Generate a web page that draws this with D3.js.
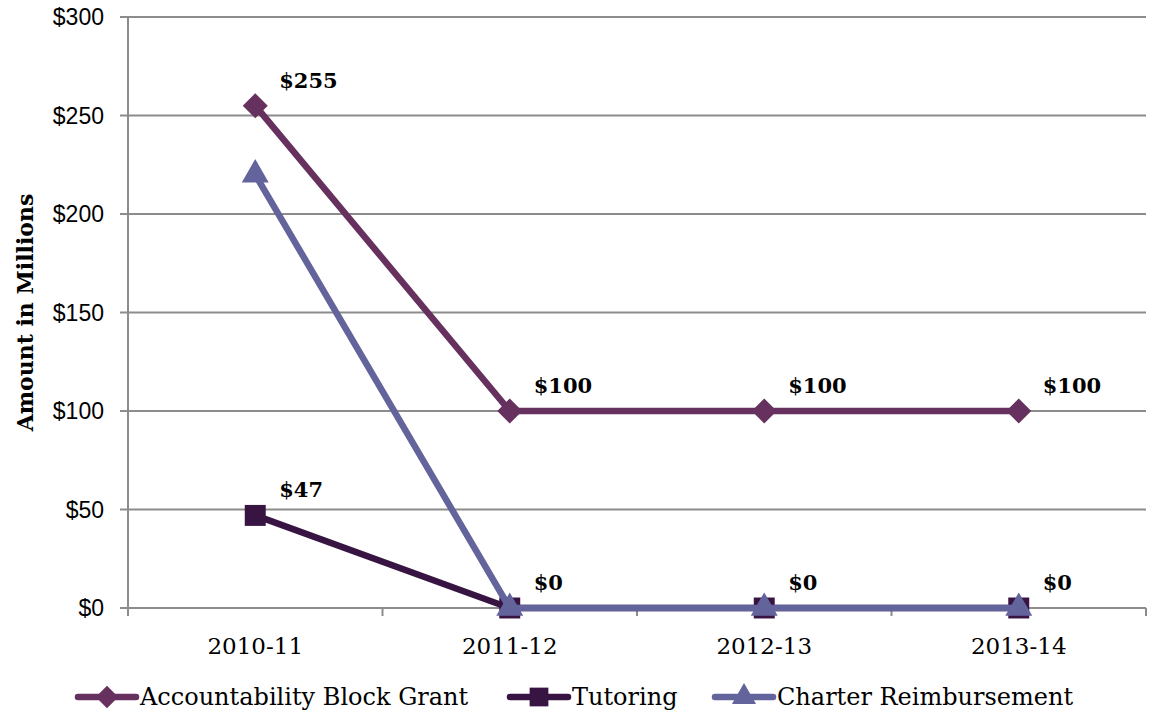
<!DOCTYPE html>
<html>
<head>
<meta charset="utf-8">
<script src="https://cdn.jsdelivr.net/npm/d3@7"></script>
<style>
  body { margin: 0; background: #fff; }
  .ytick text { font-family: "Liberation Sans", Arial, sans-serif; font-size: 23px; fill: #000; }
  .xtick text { font-family: "DejaVu Serif", serif; font-size: 23px; fill: #000; }
  .dlabel { font-family: "DejaVu Serif", serif; font-weight: bold; font-size: 21px; fill: #000; }
  .legend text { font-family: "DejaVu Serif", serif; font-size: 24px; fill: #000; }
</style>
</head>
<body>
<div id="chart"></div>
<script>
// chart values
var years = ["2010-11", "2011-12", "2012-13", "2013-14"];
var blockGrant = [255, 100, 100, 100];
var tutoring = [47, 0, 0, 0];
var charter = [220, 0, 0, 0];
var yTicks = [0, 50, 100, 150, 200, 250, 300];

// labels shown next to points
var blockGrantLabels = ["$255", "$100", "$100", "$100"];
var tutoringLabels = ["$47", "$0", "$0", "$0"];

var svgWidth = 1152;
var svgHeight = 712;
var margin = { top: 17, right: 6, bottom: 104, left: 128 };
var width = svgWidth - margin.left - margin.right;
var height = svgHeight - margin.top - margin.bottom;

var svg = d3.select("#chart").append("svg")
  .attr("width", svgWidth)
  .attr("height", svgHeight);

var chartGroup = svg.append("g")
  .attr("transform", `translate(${margin.left}, ${margin.top})`);

var x = d3.scaleBand().domain(years).range([0, width]);
var y = d3.scaleLinear().domain([0, 300]).range([height, 0]);
var cx = d => x(d) + x.bandwidth() / 2;

// gridlines
chartGroup.append("g")
  .selectAll("line")
  .data(yTicks)
  .enter().append("line")
  .attr("x1", -8)
  .attr("x2", width)
  .attr("y1", d => y(d))
  .attr("y2", d => y(d))
  .attr("stroke", "#8c8c8c")
  .attr("stroke-width", 2);

// y axis line
chartGroup.append("line")
  .attr("x1", 0).attr("x2", 0)
  .attr("y1", 0).attr("y2", height + 8)
  .attr("stroke", "#8c8c8c")
  .attr("stroke-width", 2);

// x tick marks at band edges
chartGroup.append("g")
  .selectAll("line")
  .data(years.concat(["end"]))
  .enter().append("line")
  .attr("x1", (d, i) => i * x.bandwidth())
  .attr("x2", (d, i) => i * x.bandwidth())
  .attr("y1", height)
  .attr("y2", height + 8)
  .attr("stroke", "#8c8c8c")
  .attr("stroke-width", 2);

// y tick labels
chartGroup.append("g").attr("class", "ytick")
  .selectAll("text")
  .data(yTicks)
  .enter().append("text")
  .attr("x", -24)
  .attr("y", d => y(d))
  .attr("dy", "0.35em")
  .attr("text-anchor", "end")
  .text(d => "$" + d);

// x tick labels
chartGroup.append("g").attr("class", "xtick")
  .selectAll("text")
  .data(years)
  .enter().append("text")
  .attr("x", d => cx(d))
  .attr("y", height + 46)
  .attr("text-anchor", "middle")
  .text(d => d);

// y axis title
svg.append("text")
  .attr("transform", `translate(33, ${margin.top + height / 2}) rotate(-90)`)
  .attr("text-anchor", "middle")
  .attr("font-family", "DejaVu Serif, serif")
  .attr("font-weight", "bold")
  .attr("font-size", 22)
  .text("Amount in Millions");

var series = [
  { name: "Accountability Block Grant", values: blockGrant, color: "#66305f", shape: d3.symbolDiamond2, size: 400 },
  { name: "Tutoring", values: tutoring, color: "#381443", shape: d3.symbolSquare2, size: 560 },
  { name: "Charter Reimbursement", values: charter, color: "#63649c", shape: d3.symbolTriangle2, size: 520 }
];

var line = d3.line()
  .x(d => cx(d.year))
  .y(d => y(d.value));

series.forEach(function(s) {
  var pts = years.map((yr, i) => ({ year: yr, value: s.values[i] }));
  chartGroup.append("path")
    .datum(pts)
    .attr("d", line)
    .attr("fill", "none")
    .attr("stroke", s.color)
    .attr("stroke-width", 6.5)
    .attr("stroke-linejoin", "round");
  chartGroup.selectAll(null)
    .data(pts)
    .enter().append("path")
    .attr("d", d3.symbol().type(s.shape).size(s.size))
    .attr("transform", d => `translate(${cx(d.year)}, ${y(d.value)})`)
    .attr("fill", s.color);
});

// data labels
function addLabels(values, labels) {
  chartGroup.selectAll(null)
    .data(years)
    .enter().append("text")
    .attr("class", "dlabel")
    .attr("x", d => cx(d) + 24)
    .attr("y", (d, i) => y(values[i]) - 18)
    .text((d, i) => labels[i]);
}
addLabels(blockGrant, blockGrantLabels);
addLabels(tutoring, tutoringLabels);

// legend
var legendX = [78, 510, 715];
var legend = svg.append("g").attr("class", "legend");
series.forEach(function(s, i) {
  var g = legend.append("g").attr("transform", `translate(${legendX[i]}, 697)`);
  g.append("line")
    .attr("x1", 0).attr("x2", 58)
    .attr("stroke", s.color)
    .attr("stroke-width", 6.5)
    .attr("stroke-linecap", "round");
  g.append("path")
    .attr("d", d3.symbol().type(s.shape).size(s.size * 0.8))
    .attr("transform", "translate(29, 0)")
    .attr("fill", s.color);
  g.append("text")
    .attr("x", 62)
    .attr("dy", "0.35em")
    .text(s.name);
});
</script>
</body>
</html>
